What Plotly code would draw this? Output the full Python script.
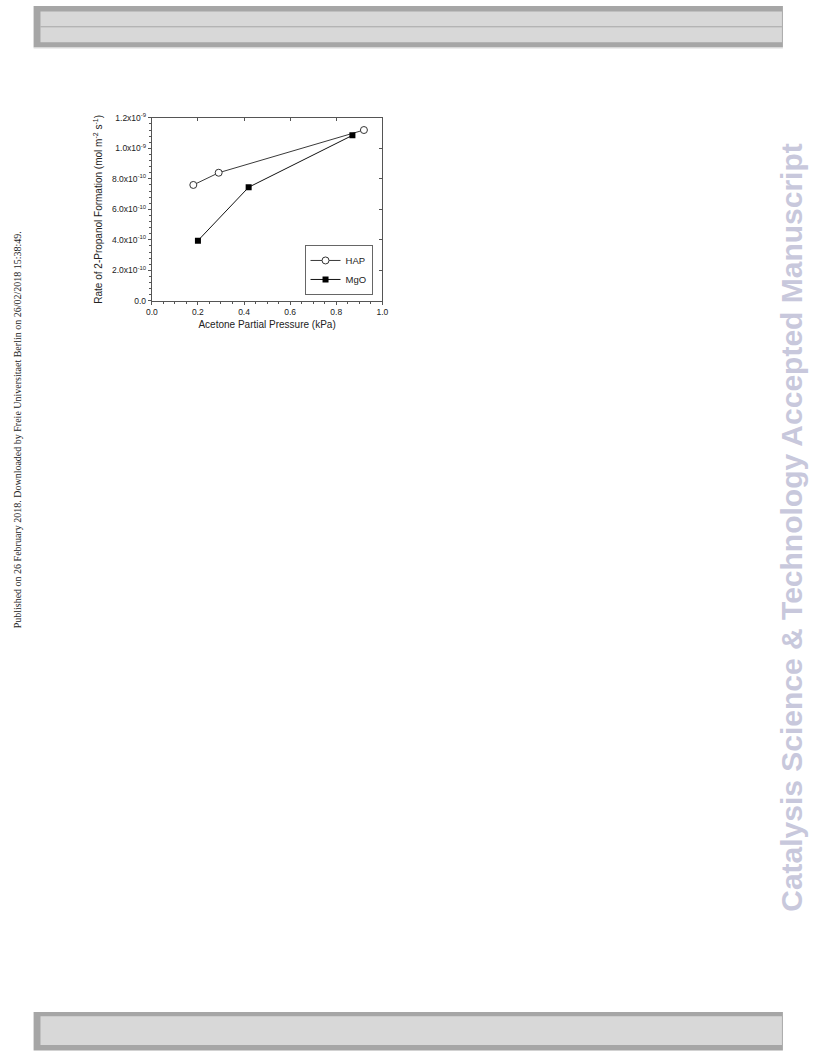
import plotly.graph_objects as go

W, H = 816, 1056

# ---- data ----
hap_p = [0.18, 0.29, 0.92]
hap_rate = [7.6e-10, 8.4e-10, 1.12e-9]
mgo_p = [0.20, 0.42, 0.87]
mgo_rate = [3.95e-10, 7.45e-10, 1.085e-9]

x_ticks = [0.0, 0.2, 0.4, 0.6, 0.8, 1.0]
x_ticklabels = ["0.0", "0.2", "0.4", "0.6", "0.8", "1.0"]
y_ticks = [0.0, 2.0e-10, 4.0e-10, 6.0e-10, 8.0e-10, 1.0e-9, 1.2e-9]
y_ticklabels = ["0.0", "2.0x10<sup>-10</sup>", "4.0x10<sup>-10</sup>", "6.0x10<sup>-10</sup>",
                "8.0x10<sup>-10</sup>", "1.0x10<sup>-9</sup>", "1.2x10<sup>-9</sup>"]

side_text = "Catalysis Science & Technology Accepted Manuscript"
left_text = "Published on 26 February 2018. Downloaded by Freie Universitaet Berlin on 26/02/2018 15:38:49."

def px(x):
    return x / W

def py(y):
    return 1 - y / H

AX = "#555555"
FONT = "Liberation Sans, Arial, sans-serif"

fig = go.Figure()
fig.add_trace(go.Scatter(
    x=hap_p, y=hap_rate, name="HAP", mode="lines+markers",
    line=dict(color="#3a3a3a", width=1),
    marker=dict(symbol="circle", size=7, color="white", line=dict(color="#333333", width=1)),
))
fig.add_trace(go.Scatter(
    x=mgo_p, y=mgo_rate, name="MgO", mode="lines+markers",
    line=dict(color="#111111", width=1),
    marker=dict(symbol="square", size=6, color="#000000", line=dict(color="#000000", width=0)),
))
# invisible trace to anchor the mirrored (inside-tick) axes
fig.add_trace(go.Scatter(x=[None], y=[None], xaxis="x2", yaxis="y2",
                         showlegend=False, hoverinfo="skip"))

xdom = [px(148), px(382)]
ydom = [py(298), py(113)]

fig.update_layout(
    width=W, height=H,
    margin=dict(l=0, r=0, t=0, b=0),
    paper_bgcolor="white", plot_bgcolor="white",
    font=dict(family=FONT, color="#222222"),
    showlegend=True,
    xaxis=dict(
        domain=xdom, range=[0, 1], anchor="y",
        tickvals=x_ticks, ticktext=x_ticklabels,
        ticks="outside", ticklen=3, tickwidth=1, tickcolor=AX,
        minor=dict(dtick=0.05, tick0=0, ticks="outside", ticklen=2, tickcolor=AX),
        showline=True, linecolor=AX, linewidth=1,
        showgrid=False, zeroline=False,
        tickfont=dict(size=8.5, family=FONT, color="#222222"),
        title=dict(text="Acetone Partial Pressure (kPa)", font=dict(size=10, family=FONT, color="#222222"), standoff=4),
    ),
    yaxis=dict(
        domain=ydom, range=[0, 1.2e-9], anchor="x",
        tickvals=y_ticks, ticktext=y_ticklabels,
        ticks="outside", ticklen=3, tickwidth=1, tickcolor=AX,
        minor=dict(dtick=0.4e-10, tick0=0, ticks="outside", ticklen=2, tickcolor=AX),
        showline=True, linecolor=AX, linewidth=1,
        showgrid=False, zeroline=False,
        tickfont=dict(size=8.5, family=FONT, color="#222222"),
        title=dict(text="Rate of 2-Propanol Formation (mol m<sup>-2</sup> s<sup>-1</sup>)",
                   font=dict(size=10, family=FONT, color="#222222"), standoff=7),
    ),
    xaxis2=dict(
        domain=xdom, range=[0, 1], overlaying="x", side="top", anchor="y2",
        tickvals=x_ticks, showticklabels=False,
        ticks="inside", ticklen=3, tickcolor=AX,
        showline=True, linecolor=AX, linewidth=1, showgrid=False, zeroline=False,
    ),
    yaxis2=dict(
        domain=ydom, range=[0, 1.2e-9], overlaying="y", side="right", anchor="x2",
        tickvals=y_ticks, showticklabels=False,
        ticks="inside", ticklen=3, tickcolor=AX,
        showline=True, linecolor=AX, linewidth=1, showgrid=False, zeroline=False,
    ),
    legend=dict(
        x=px(372), y=py(292), xanchor="right", yanchor="bottom",
        bgcolor="white", bordercolor="#666666", borderwidth=1,
        font=dict(size=9.5, family=FONT, color="#222222"),
        tracegroupgap=0, itemwidth=30,
    ),
)

shapes = []
# top header bar
shapes.append(dict(type="rect", xref="paper", yref="paper", x0=px(28), x1=px(788.5), y0=py(42), y1=py(0),
                   fillcolor="#a6a6a6", line=dict(width=0), layer="below"))
shapes.append(dict(type="rect", xref="paper", yref="paper", x0=px(35), x1=px(787.5), y0=py(36.7), y1=py(5.5),
                   fillcolor="#d8d8d8", line=dict(width=0), layer="below"))
shapes.append(dict(type="line", xref="paper", yref="paper", x0=px(35), x1=px(787.5), y0=py(21), y1=py(21),
                   line=dict(color="#a6a6a6", width=1), layer="below"))
shapes.append(dict(type="line", xref="paper", yref="paper", x0=px(28), x1=px(788.5), y0=py(42.5), y1=py(42.5),
                   line=dict(color="#dedede", width=1), layer="below"))
# bottom footer bar
shapes.append(dict(type="rect", xref="paper", yref="paper", x0=px(28), x1=px(788.5), y0=py(1055.5), y1=py(1016.7),
                   fillcolor="#a6a6a6", line=dict(width=0), layer="below"))
shapes.append(dict(type="rect", xref="paper", yref="paper", x0=px(35), x1=px(787.5), y0=py(1050), y1=py(1021),
                   fillcolor="#d8d8d8", line=dict(width=0), layer="below"))
fig.update_layout(shapes=shapes)

fig.add_annotation(text=side_text, xref="paper", yref="paper", x=px(797), y=py(527),
                   textangle=-90, showarrow=False, xanchor="center", yanchor="middle",
                   font=dict(size=30, family="Liberation Sans, Arial, sans-serif", color="#c8c8dc", weight="bold"))
fig.add_annotation(text=left_text, xref="paper", yref="paper", x=px(12), y=py(428),
                   textangle=-90, showarrow=False, xanchor="center", yanchor="middle",
                   font=dict(size=10, family="Liberation Serif, Times New Roman, serif", color="#222222"))

post = ("document.documentElement.style.margin='0';document.documentElement.style.overflow='hidden';"
        "document.body.style.margin='0';document.body.style.padding='0';document.body.style.overflow='hidden';"
        "var d=document.getElementById('{plot_id}');d.style.position='fixed';d.style.left='0px';d.style.top='0px';")

fig.write_html("out.html", config={"displayModeBar": False}, post_script=post)
